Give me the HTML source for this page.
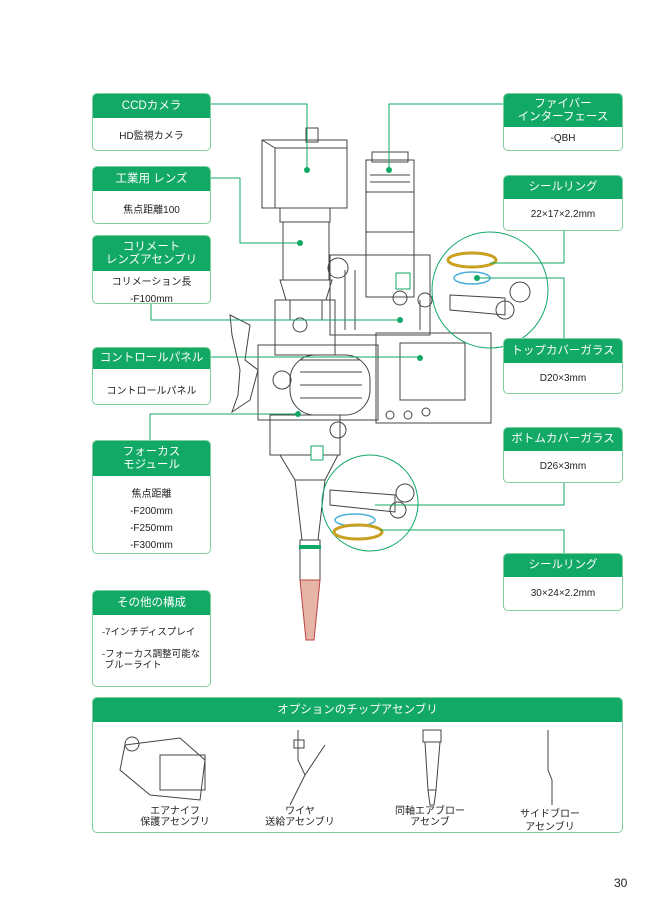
<!DOCTYPE html><html><head><meta charset="utf-8"><style>
body{margin:0;background:#fff;width:670px;height:902px;position:relative;overflow:hidden;font-family:"Liberation Sans","Noto Sans CJK JP",sans-serif}
.b{position:absolute;border:1.5px solid #7fcf9f;border-radius:5px;background:#fff;overflow:hidden;box-sizing:border-box}
.h{background:#12a866;color:#fff;text-align:center;font-size:11.5px;line-height:13px;display:flex;align-items:center;justify-content:center;flex-direction:column}
.t{font-size:10px;color:#222;text-align:center}
svg{position:absolute;left:0;top:0}
</style></head><body>
<svg width="670" height="902">
<g fill="none" stroke="#444" stroke-width="1">
<rect x="306" y="128" width="12" height="14"/>
<rect x="262" y="140" width="85" height="68"/>
<path d="M262 140 L275 148 H347 M275 148 V208"/>
<rect x="280" y="208" width="50" height="14"/>
<rect x="283" y="222" width="46" height="58"/>
<path d="M280 280 L332 280 L326 300 L286 300 Z"/>
<rect x="290" y="300" width="32" height="20"/>
<rect x="372" y="152" width="36" height="10"/>
<rect x="366" y="160" width="48" height="32"/>
<rect x="366" y="192" width="48" height="105"/>
<path d="M366 232 H414 M370 175 H410 M370 182 H410"/>
<rect x="275" y="300" width="60" height="55"/>
<rect x="330" y="255" width="100" height="80"/>
<path d="M345 270 V330 M355 270 V330 M420 300 V330"/>
<rect x="258" y="345" width="120" height="75"/>
<rect x="290" y="355" width="80" height="60" rx="25"/>
<path d="M300 360 H360 M300 372 H362 M300 385 H362 M300 398 H362"/>
<rect x="376" y="333" width="115" height="90"/>
<rect x="400" y="343" width="65" height="57"/>
<circle cx="390" cy="415" r="4"/><circle cx="408" cy="415" r="4"/><circle cx="426" cy="412" r="4"/>
<rect x="270" y="415" width="70" height="40"/>
<path d="M280 455 L338 455 L325 480 L295 480 Z"/>
<path d="M295 480 L325 480 L318 540 L302 540 Z"/>
<rect x="300" y="540" width="20" height="40"/>
<path d="M230 315 L250 325 L245 360 L258 370 L250 400 L232 412 L238 395 L240 370 L232 335 Z"/>
<circle cx="338" cy="268" r="10"/><circle cx="400" cy="298" r="7"/><circle cx="338" cy="430" r="8"/>
<circle cx="300" cy="325" r="7"/><circle cx="425" cy="300" r="7"/><circle cx="282" cy="380" r="9"/>
<circle cx="490" cy="290" r="58" stroke="#12a866"/>
<circle cx="370" cy="503" r="48" stroke="#12a866"/>
<path d="M450 295 L505 298 L505 315 L450 310 Z"/><circle cx="520" cy="292" r="10"/><circle cx="505" cy="310" r="9"/>
<path d="M330 490 L395 495 L395 512 L330 505 Z"/><circle cx="405" cy="493" r="9"/><circle cx="398" cy="510" r="8"/>
</g>
<path d="M300 580 L320 580 L314 640 L306 640 Z" fill="#e7b4a8" stroke="#b44" stroke-width="1"/>
<rect x="299" y="545" width="22" height="4" fill="#12a866"/>
<ellipse cx="472" cy="260" rx="24" ry="7" fill="none" stroke="#c9a020" stroke-width="3"/>
<ellipse cx="472" cy="278" rx="18" ry="6" fill="none" stroke="#4ab0d8" stroke-width="1.5"/>
<ellipse cx="355" cy="520" rx="20" ry="6" fill="none" stroke="#4ab0d8" stroke-width="1.5"/>
<ellipse cx="358" cy="532" rx="24" ry="7" fill="none" stroke="#c9a020" stroke-width="3"/>
<rect x="396" y="273" width="14" height="16" fill="#fff" stroke="#12a866"/>
<rect x="311" y="446" width="12" height="14" fill="#fff" stroke="#12a866"/>
<g fill="none" stroke="#12a866" stroke-width="1">
<path d="M210 104 H307 V170"/><path d="M210 178 H240 V243 H300"/>
<path d="M151 303 V320 H400"/><path d="M210 357 H420"/>
<path d="M150 440 V414 H298"/><path d="M503 104 H389 V170"/>
<path d="M564 230 V263 H490"/><path d="M564 338 V278 H478"/>
<path d="M564 482 V505 H375"/><path d="M564 553 V530 H380"/>
</g>
<g fill="#12a866"><circle cx="307" cy="170" r="3"/><circle cx="300" cy="243" r="3"/><circle cx="400" cy="320" r="3"/><circle cx="420" cy="358" r="3"/><circle cx="298" cy="414" r="3"/><circle cx="389" cy="170" r="3"/><circle cx="477" cy="278" r="3"/></g>
<g fill="none" stroke="#444">
<path d="M125 745 L180 738 L205 760 L200 800 L150 795 L120 770 Z"/><rect x="160" y="755" width="45" height="35"/>
<circle cx="132" cy="744" r="7"/>
<path d="M298 730 V760 L305 775 M305 775 L325 745 M305 775 L290 805"/>
<rect x="294" y="740" width="10" height="8"/>
<rect x="423" y="730" width="18" height="12"/><path d="M425 742 L440 742 L436 790 L428 790 Z M428 790 L436 790 L434 805 L430 805 Z"/>
<path d="M548 730 V770 L552 780 V805"/>
</g>
</svg>
<div class="b" style="left:92px;top:93px;width:119px;height:58px"><div class="h" style="height:24px">CCDカメラ</div><div class="t" style="margin-top:9px">HD監視カメラ</div></div>
<div class="b" style="left:92px;top:166px;width:119px;height:58px"><div class="h" style="height:24px">工業用 レンズ</div><div class="t" style="margin-top:10px">焦点距離100</div></div>
<div class="b" style="left:92px;top:235px;width:119px;height:69px"><div class="h" style="height:35px">コリメート<br>レンズアセンブリ</div><div class="t" style="margin-top:3px;line-height:17px">コリメーション長<br>-F100mm</div></div>
<div class="b" style="left:92px;top:347px;width:119px;height:58px"><div class="h" style="height:21px">コントロールパネル</div><div class="t" style="margin-top:13px">コントロールパネル</div></div>
<div class="b" style="left:92px;top:440px;width:119px;height:114px"><div class="h" style="height:35px">フォーカス<br>モジュール</div><div class="t" style="margin-top:10px;line-height:17px">焦点距離<br>-F200mm<br>-F250mm<br>-F300mm</div></div>
<div class="b" style="left:92px;top:590px;width:119px;height:97px"><div class="h" style="height:24px">その他の構成</div><div class="t" style="margin-top:12px;line-height:11px;text-align:left;padding-left:9px;font-size:9.5px;white-space:nowrap">-7インチディスプレイ<br><br>-フォーカス調整可能な<br>&nbsp;ブルーライト</div></div>
<div class="b" style="left:503px;top:93px;width:120px;height:58px"><div class="h" style="height:33px">ファイバー<br>インターフェース</div><div class="t" style="margin-top:6px">-QBH</div></div>
<div class="b" style="left:503px;top:175px;width:120px;height:56px"><div class="h" style="height:23px">シールリング</div><div class="t" style="margin-top:10px">22×17×2.2mm</div></div>
<div class="b" style="left:503px;top:338px;width:120px;height:56px"><div class="h" style="height:24px">トップカバーガラス</div><div class="t" style="margin-top:10px">D20×3mm</div></div>
<div class="b" style="left:503px;top:427px;width:120px;height:56px"><div class="h" style="height:23px">ボトムカバーガラス</div><div class="t" style="margin-top:10px">D26×3mm</div></div>
<div class="b" style="left:503px;top:553px;width:120px;height:58px"><div class="h" style="height:23px">シールリング</div><div class="t" style="margin-top:11px">30×24×2.2mm</div></div>
<div class="b" style="left:92px;top:697px;width:531px;height:136px;background:transparent"><div class="h" style="height:24px">オプションのチップアセンブリ</div></div>
<div class="t" style="position:absolute;left:120px;top:806px;width:110px;line-height:11px">エアナイフ<br>保護アセンブリ</div>
<div class="t" style="position:absolute;left:245px;top:806px;width:110px;line-height:11px">ワイヤ<br>送給アセンブリ</div>
<div class="t" style="position:absolute;left:375px;top:806px;width:110px;line-height:11px">同軸エアブロー<br>アセンブ</div>
<div class="t" style="position:absolute;left:495px;top:808px;width:110px;line-height:13px">サイドブロー<br>アセンブリ</div>
<div style="position:absolute;left:614px;top:876px;font-size:12px;color:#222">30</div>
</body></html>
